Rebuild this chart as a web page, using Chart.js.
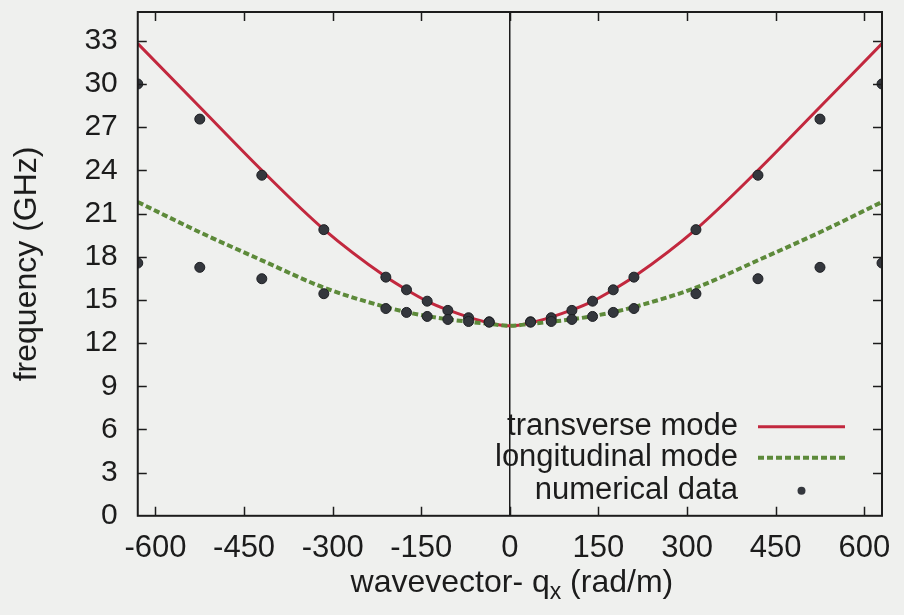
<!DOCTYPE html>
<html>
<head>
<meta charset="utf-8">
<script src="https://cdn.jsdelivr.net/npm/chart.js@4/dist/chart.umd.min.js"></script>
<style>
html, body { margin: 0; padding: 0; background: #eff0ee; }
#wrap { width: 904px; height: 615px; }
</style>
</head>
<body>
<div id="wrap"><canvas id="myChart1"></canvas></div>
<script>
// wavevector samples for the model curves (rad/m)
var curveQ = [-630,-525,-420,-315,-210,-175,-140,-105,-70,-35,0,35,70,105,140,175,210,315,420,525,630];
var transverse = [32.8,28.4,24.0,19.9,16.6,15.7,14.9,14.3,13.8,13.4,13.2,13.4,13.8,14.3,14.9,15.7,16.6,19.9,24.0,28.4,32.8];
var longitudinal = [21.8,19.7,17.75,15.85,14.5,14.15,13.87,13.65,13.48,13.33,13.2,13.33,13.48,13.65,13.87,14.15,14.5,15.85,17.75,19.7,21.8];

// simulation points
var dataQ = [-630,-525,-420,-315,-210,-175,-140,-105,-70,-35,35,70,105,140,175,210,315,420,525,630];
var dataUpper = [30.0,27.56,23.66,19.88,16.58,15.7,14.91,14.27,13.76,13.48,13.48,13.76,14.27,14.91,15.7,16.58,19.88,23.66,27.56,30.0];
var dataLower = [17.56,17.26,16.47,15.43,14.4,14.13,13.85,13.64,13.5,13.45,13.45,13.5,13.64,13.85,14.13,14.4,15.43,16.47,17.26,17.56];

var xTicks = [-600,-450,-300,-150,0,150,300,450,600];
var yTicks = [0,3,6,9,12,15,18,21,24,27,30,33];

function pairs(xs, ys){
  var out = [];
  for(var i=0; i<xs.length; i++) out.push({x: xs[i], y: ys[i]});
  return out;
}

var points = pairs(dataQ, dataUpper).concat(pairs(dataQ, dataLower));

var FONT = "'Liberation Sans', Arial, Helvetica, sans-serif";
var INK = "#1c1c1c";

// no extra room for edge labels, the plot box is set by layout padding
function noEdgePadding(axis){
  axis.paddingTop = 0;
  axis.paddingBottom = 0;
  axis.paddingLeft = 0;
  axis.paddingRight = 0;
}

// gnuplot style: frame, inward ticks on all four sides
var framePlugin = {
  id: 'frame',
  afterDatasetsDraw: function(chart){
    var ctx = chart.ctx, a = chart.chartArea;
    var xs = chart.scales.x, ys = chart.scales.y;
    var len = 9;
    ctx.save();
    ctx.strokeStyle = INK;
    ctx.lineWidth = 1.5;
    ctx.beginPath();
    xs.ticks.forEach(function(t){
      var px = Math.round(xs.getPixelForValue(t.value)) + 0.5;
      ctx.moveTo(px, a.bottom); ctx.lineTo(px, a.bottom - len);
      ctx.moveTo(px, a.top); ctx.lineTo(px, a.top + len);
    });
    ys.ticks.forEach(function(t){
      if(t.value === 0) return;
      var py = Math.round(ys.getPixelForValue(t.value)) + 0.5;
      ctx.moveTo(a.left, py); ctx.lineTo(a.left + len, py);
      ctx.moveTo(a.right, py); ctx.lineTo(a.right - len, py);
    });
    ctx.stroke();
    ctx.lineWidth = 2;
    ctx.strokeRect(a.left, a.top, a.right - a.left, a.bottom - a.top);
    ctx.restore();
  }
};

// key in the lower right corner and x axis title with subscript
var keyPlugin = {
  id: 'key',
  afterDraw: function(chart){
    var ctx = chart.ctx, a = chart.chartArea;
    var ds = chart.data.datasets;
    var textX = a.right - 144, x0 = a.right - 124, x1 = a.right - 37;
    var rows = [a.bottom - 89, a.bottom - 58, a.bottom - 25];
    ctx.save();
    ctx.font = "31px " + FONT;
    ctx.fillStyle = INK;
    ctx.textAlign = 'right';
    ctx.textBaseline = 'middle';
    ds.forEach(function(d, i){
      ctx.fillText(d.label, textX, rows[i]);
      if(d.showLine){
        ctx.strokeStyle = d.borderColor;
        ctx.lineWidth = d.borderWidth;
        ctx.setLineDash(d.borderDash || []);
        ctx.beginPath();
        ctx.moveTo(x0, rows[i]); ctx.lineTo(x1, rows[i]);
        ctx.stroke();
        ctx.setLineDash([]);
      } else {
        ctx.fillStyle = d.backgroundColor;
        ctx.beginPath();
        ctx.arc((x0 + x1) / 2, rows[i], 4, 0, Math.PI * 2);
        ctx.fill();
        ctx.fillStyle = INK;
      }
    });

    // wavevector- q_x (rad/m)
    var p1 = "wavevector- q", sub = "x", p2 = " (rad/m)";
    ctx.textAlign = 'left';
    ctx.textBaseline = 'alphabetic';
    ctx.font = "32px " + FONT;
    var w1 = ctx.measureText(p1).width, w2 = ctx.measureText(p2).width;
    ctx.font = "23px " + FONT;
    var ws = ctx.measureText(sub).width;
    var cx = (a.left + a.right) / 2 + 2;
    var sx = cx - (w1 + ws + w2) / 2;
    var base = 592;
    ctx.font = "32px " + FONT;
    ctx.fillText(p1, sx, base);
    ctx.font = "23px " + FONT;
    ctx.fillText(sub, sx + w1, base + 7);
    ctx.font = "32px " + FONT;
    ctx.fillText(p2, sx + w1 + ws, base);
    ctx.restore();
  }
};

var bgPlugin = {
  id: 'bg',
  beforeDraw: function(chart){
    var ctx = chart.ctx;
    ctx.save();
    ctx.fillStyle = '#eff0ee';
    ctx.fillRect(0, 0, chart.width, chart.height);
    ctx.restore();
  }
};

var data = {
  datasets: [
    {
      label: "transverse mode",
      data: pairs(curveQ, transverse),
      showLine: true,
      borderColor: "#c2283e",
      borderWidth: 3,
      pointRadius: 0,
      cubicInterpolationMode: 'monotone',
      order: 2
    },
    {
      label: "longitudinal mode",
      data: pairs(curveQ, longitudinal),
      showLine: true,
      borderColor: "#5d8a3a",
      borderWidth: 4,
      borderDash: [6, 3],
      pointRadius: 0,
      cubicInterpolationMode: 'monotone',
      order: 1
    },
    {
      label: "numerical data",
      data: points,
      showLine: false,
      backgroundColor: "#34373d",
      borderColor: "#1e2024",
      borderWidth: 1,
      pointRadius: 5,
      order: 0
    }
  ]
};

var options = {
  responsive: false,
  animation: false,
  layout: { padding: { left: 8, right: 22, top: 12, bottom: 34 } },
  plugins: {
    legend: { display: false },
    tooltip: { enabled: false }
  },
  scales: {
    x: {
      type: 'linear',
      min: -630,
      max: 630,
      afterBuildTicks: function(axis){
        axis.ticks = xTicks.map(function(v){ return {value: v}; });
      },
      afterFit: noEdgePadding,
      grid: {
        drawTicks: false,
        color: function(c){ return c.tick && c.tick.value === 0 ? INK : 'rgba(0,0,0,0)'; },
        lineWidth: 1.5
      },
      border: { display: false },
      ticks: {
        padding: 14,
        color: INK,
        maxRotation: 0,
        font: { family: FONT, size: 31 }
      }
    },
    y: {
      min: 0,
      max: 35,
      afterBuildTicks: function(axis){
        axis.ticks = yTicks.map(function(v){ return {value: v}; });
      },
      afterFit: noEdgePadding,
      grid: { display: false, drawTicks: false },
      border: { display: false },
      ticks: {
        padding: 20,
        color: INK,
        font: { family: FONT, size: 30 }
      },
      title: {
        display: true,
        text: "frequency (GHz)",
        color: INK,
        padding: { top: 0, bottom: 18 },
        font: { family: FONT, size: 32 }
      }
    }
  }
};

var canvas = document.getElementById("myChart1");
canvas.width = 904;
canvas.height = 615;
var chart = new Chart(canvas.getContext("2d"), {
  type: 'scatter',
  data: data,
  options: options,
  plugins: [bgPlugin, framePlugin, keyPlugin]
});
</script>
</body>
</html>
